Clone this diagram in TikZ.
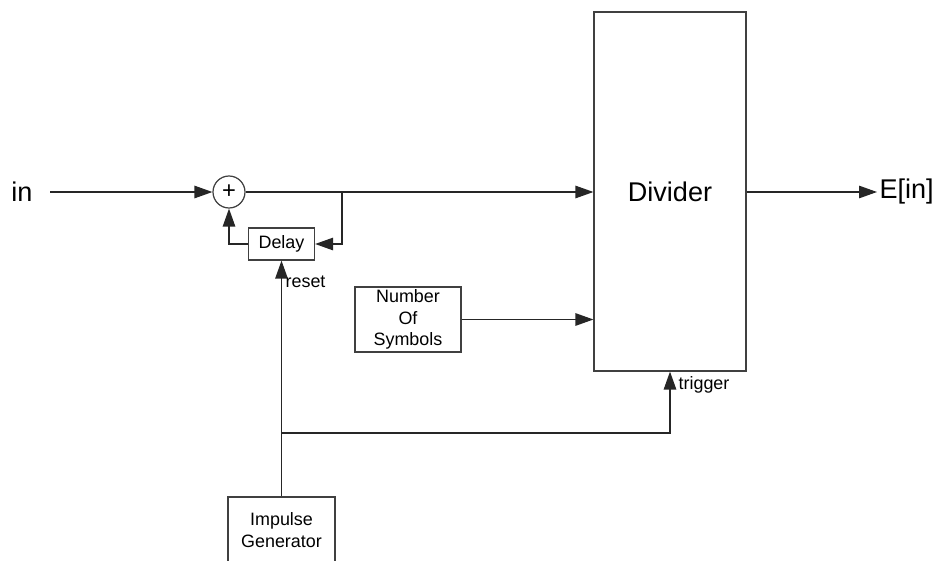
\documentclass[tikz,border=0pt]{standalone}
\usepackage{fontspec}
\setmainfont{Liberation Sans}
\usetikzlibrary{positioning, arrows.meta}

\begin{document}
\begin{tikzpicture}[
  x=0.02cm, y=-0.02cm,
  font=\fontsize{10.2}{12.2}\selectfont,
  line width=0.7pt,
  block/.style={rectangle, draw=black!75, align=center, inner sep=0pt},
  big/.style={font=\fontsize{15.4}{18}\selectfont},
  arr/.style={-{Triangle[length=0.36cm, width=0.25cm]}, draw=black!85}
]
  \useasboundingbox (0,0) rectangle (940,561);
  \node[big, anchor=east, inner xsep=0.34cm] (in) at (50,192) {in};
  \node[circle, draw=black!75, minimum size=0.64cm, inner sep=0pt, font=\fontsize{13.5}{14}\selectfont] (add) at (229,192) {+};
  \node[block, minimum width=1.32cm, minimum height=0.64cm] (delay) at (281.5,244) {Delay};
  \node[block, minimum width=2.12cm, minimum height=1.3cm] (num) at (408,319.5) {Number\\Of\\Symbols};
  \node[block, big, minimum width=3.04cm, minimum height=7.18cm] (div) at (670,191.5) {Divider};
  \node[block, minimum width=2.14cm, minimum height=1.32cm] (imp) at (281.5,530) {Impulse\\Generator};
  \node[big, anchor=west, inner xsep=0.04cm] (out) at (877,192) {E[in]};
  \coordinate (br) at (342,192);
  \coordinate (tj) at (281.5,433);
  \draw[arr] (in.east) -- (add.west);
  \draw[arr] (add.east) -- (add -| div.west);
  \draw[arr] (br) |- (delay.east);
  \draw[arr] (delay.west) -| (add.south);
  \draw[arr] (imp.north) -- node[pos=1, anchor=west, inner sep=0pt, xshift=0.07cm, yshift=-0.42cm] {reset} (delay.south);
  \draw[arr] (tj) -| node[pos=1, anchor=west, inner sep=0pt, xshift=0.16cm, yshift=-0.26cm] {trigger} (div.south);
  \draw[arr] (num.east) -- (num.east -| div.west);
  \draw[arr] (div.east |- out) -- (out.west);
\end{tikzpicture}
\end{document}
